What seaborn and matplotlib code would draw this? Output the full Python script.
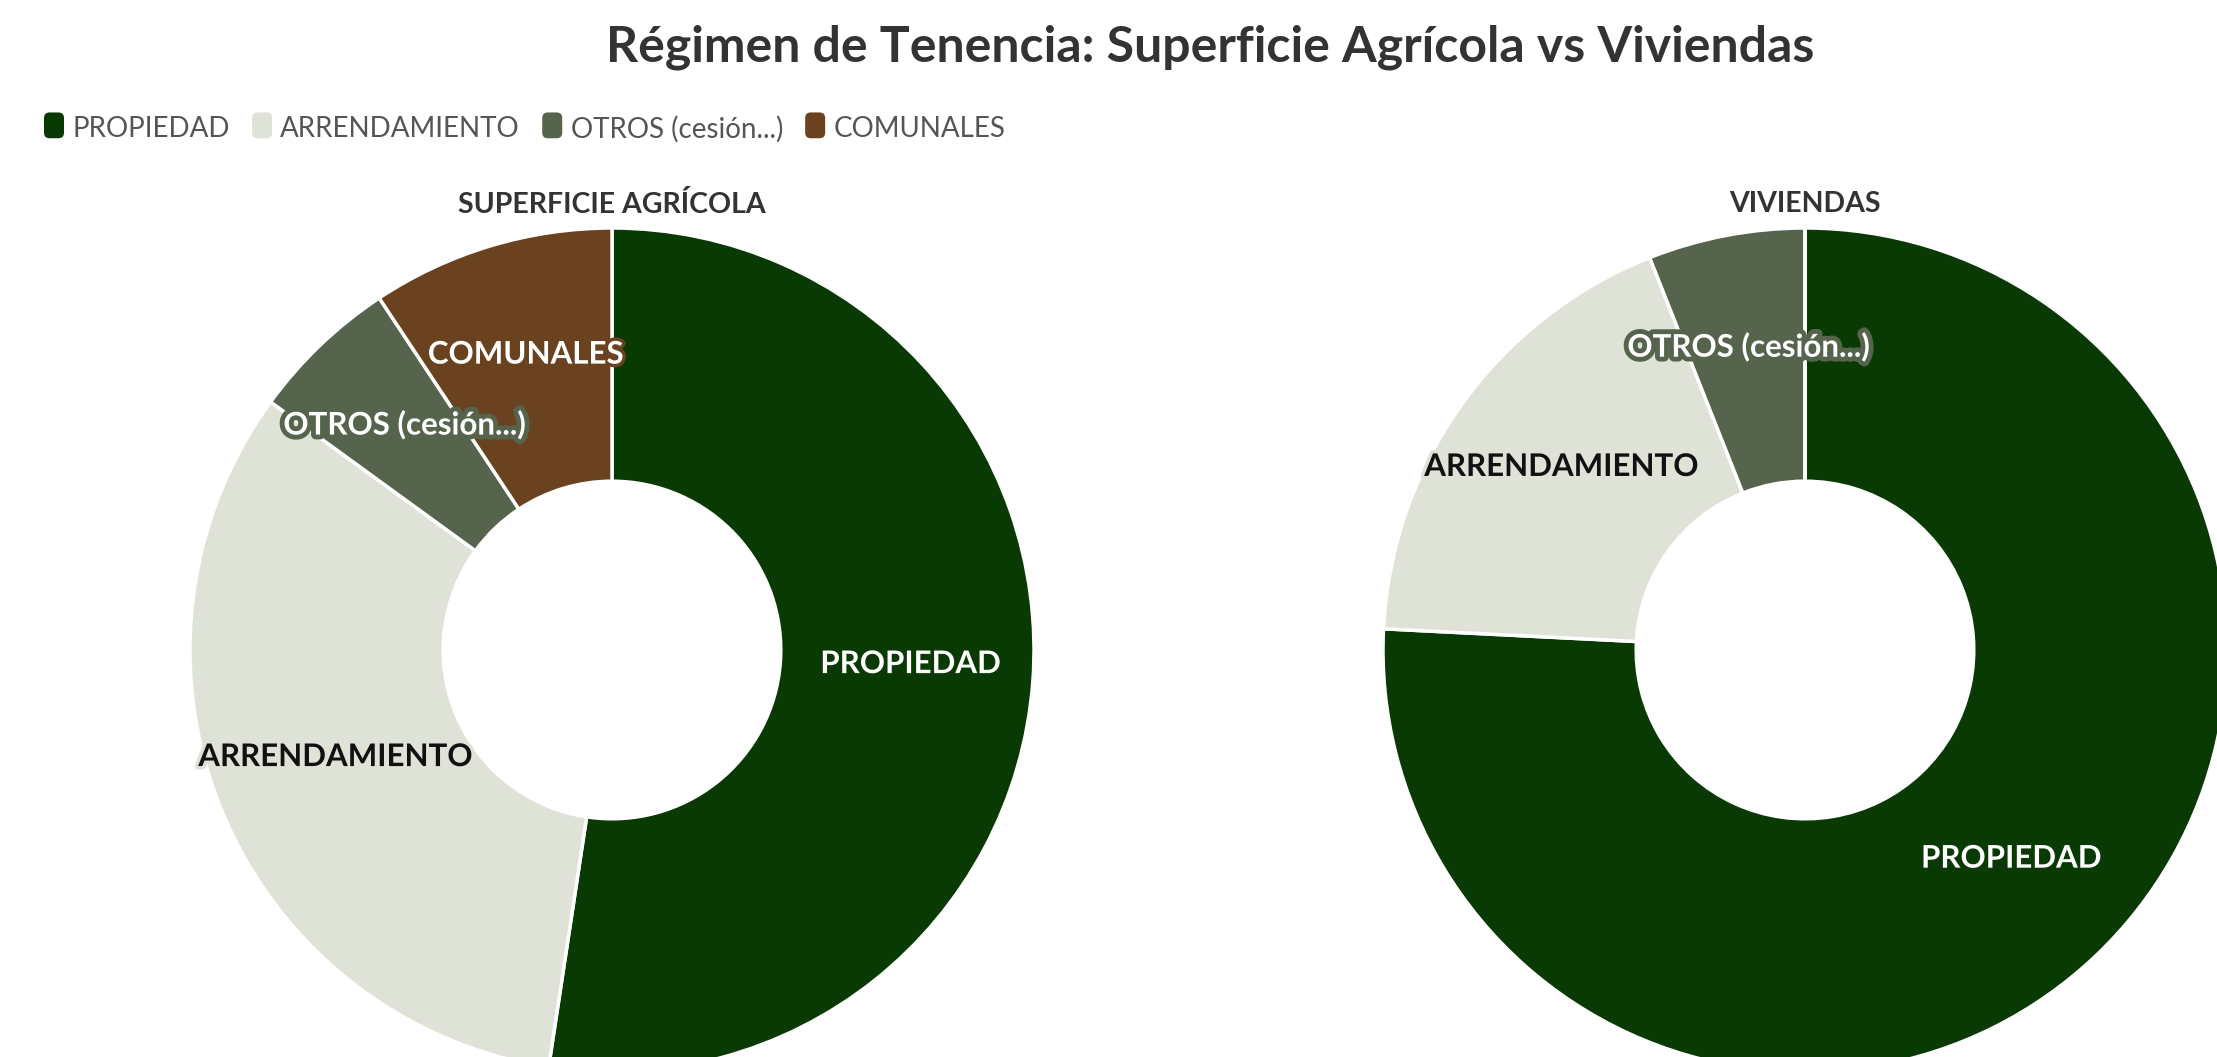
import numpy as np
import matplotlib
matplotlib.use("Agg")
import matplotlib.pyplot as plt
import matplotlib.patheffects as pe
from matplotlib.patches import FancyBboxPatch
import seaborn as sns

# data (percent of total)
categories = ["PROPIEDAD", "ARRENDAMIENTO", "OTROS (cesión...)", "COMUNALES"]
superficie_agricola = [52.4, 32.6, 5.7, 9.3]
viviendas = [75.8, 18.2, 6.0, 0.0]
panel_titles = ["SUPERFICIE AGRÍCOLA", "VIVIENDAS"]
title = "Régimen de Tenencia: Superficie Agrícola vs Viviendas"

colors = sns.color_palette(["#0a3a03", "#dfe3d7", "#56644d", "#6b4220"])
label_colors = ["white", "#111111", "white", "white"]

sns.set_theme(style="white")
plt.rcParams["font.family"] = ["Lato", "DejaVu Sans"]

W, H = 2217, 1057
fig = plt.figure(figsize=(W / 100, H / 100), dpi=100)
fig.patch.set_facecolor("white")


class RoundBoxHandler:
    def legend_artist(self, legend, orig_handle, fontsize, handlebox):
        x0, y0 = handlebox.xdescent, handlebox.ydescent
        w, h = handlebox.width, handlebox.height
        p = FancyBboxPatch((x0, y0 - 2), w, h + 2, boxstyle="round,pad=0,rounding_size=4",
                           facecolor=orig_handle.get_facecolor(), edgecolor="none",
                           transform=handlebox.get_transform())
        handlebox.add_artist(p)
        return p


def donut(ax, values):
    wedges, _ = ax.pie(values, colors=colors, startangle=90, counterclock=False,
                       radius=1.0,
                       wedgeprops=dict(width=0.6, edgecolor="white", linewidth=2.5))
    ax.set_xlim(-1, 1)
    ax.set_ylim(-1, 1)
    ax.set_aspect("equal")
    ax.axis("off")
    for i, (w, v) in enumerate(zip(wedges, values)):
        if v <= 0:
            continue
        mid = np.deg2rad((w.theta1 + w.theta2) / 2)
        r = 0.71
        ax.text(r * np.cos(mid), r * np.sin(mid) + 0.02, categories[i],
                ha="center", va="center", fontsize=22.5, fontweight="bold",
                color=label_colors[i],
                path_effects=[pe.withStroke(linewidth=7 if i == 2 else 5,
                                            foreground=colors[i])])
    return wedges


size = 844
centers = [(612, 650), (1805, 650)]
for (cx, cy), vals, sub in zip(centers, [superficie_agricola, viviendas], panel_titles):
    left = (cx - size / 2) / W
    bottom = (H - cy - size / 2) / H
    ax = fig.add_axes([left, bottom, size / W, size / H])
    donut(ax, vals)
    fig.text(cx / W, 1 - 204 / H, sub, ha="center", va="center",
             fontsize=20.5, fontweight="bold", color="#333333")

fig.text(1210 / W, 1 - 47 / H, title, ha="center", va="center",
         fontsize=36, fontweight="bold", color="#333333")

handles = [matplotlib.patches.Patch(facecolor=c) for c in colors]
leg = fig.legend(handles, categories, loc="center left",
                 bbox_to_anchor=(19 / W, 1 - 129 / H), ncol=4, frameon=False,
                 fontsize=20, labelcolor="#555555",
                 handlelength=0.72, handleheight=0.9, handletextpad=0.3,
                 columnspacing=0.8,
                 handler_map={matplotlib.patches.Patch: RoundBoxHandler()})

fig.savefig("out.png", dpi=100, facecolor="white")
